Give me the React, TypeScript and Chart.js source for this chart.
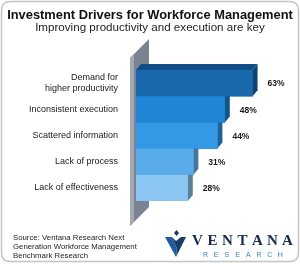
import React, { useEffect, useRef } from "react";
import { Chart, registerables } from "chart.js";

Chart.register(...registerables);

const TITLE = "Investment Drivers for Workforce Management";
const SUBTITLE = "Improving productivity and execution are key";
const categories: (string | string[])[] = [
  ["Demand for", "higher productivity"],
  "Inconsistent execution",
  "Scattered information",
  "Lack of process",
  "Lack of effectiveness",
];
const values = [63, 48, 44, 31, 28];
const frontColors = ["#1a69ac", "#1f86d6", "#3398e5", "#5aabe9", "#8bc7f2"];
const topColors = ["#0f4e86", "#17649f", "#2273b3", "#4a8cbf", "#6c9fc6"];
const sideColors = ["#0d4272", "#135789", "#1c6198", "#3f76a2", "#5a8098"];
const SOURCE = ["Source: Ventana Research Next", "Generation Workforce Management", "Benchmark Research"];

const FONT = "'Liberation Sans', Arial, sans-serif";

function fitSize(text: string, target: number, weight: string): number {
  const c = document.createElement("canvas").getContext("2d")!;
  c.font = `${weight} 20px ${FONT}`;
  const w = c.measureText(text).width;
  return (20 * target) / w;
}

function roundRect(ctx: CanvasRenderingContext2D, x: number, y: number, w: number, h: number, r: number) {
  ctx.beginPath();
  ctx.moveTo(x + r, y);
  ctx.lineTo(x + w - r, y);
  ctx.quadraticCurveTo(x + w, y, x + w, y + r);
  ctx.lineTo(x + w, y + h - r);
  ctx.quadraticCurveTo(x + w, y + h, x + w - r, y + h);
  ctx.lineTo(x + r, y + h);
  ctx.quadraticCurveTo(x, y + h, x, y + h - r);
  ctx.lineTo(x, y + r);
  ctx.quadraticCurveTo(x, y, x + r, y);
  ctx.closePath();
}

function poly(ctx: CanvasRenderingContext2D, pts: number[][], fill: string) {
  ctx.beginPath();
  ctx.moveTo(pts[0][0], pts[0][1]);
  for (let i = 1; i < pts.length; i++) ctx.lineTo(pts[i][0], pts[i][1]);
  ctx.closePath();
  ctx.fillStyle = fill;
  ctx.fill();
}

const DX = 5;
const DY = -6;

const scenePlugin = {
  id: "scene",
  beforeDraw(chart: any) {
    const ctx: CanvasRenderingContext2D = chart.ctx;
    ctx.save();
    ctx.fillStyle = "#ffffff";
    ctx.fillRect(0, 0, chart.width, chart.height);
    roundRect(ctx, 1.5, 1.5, 297, 260, 9);
    ctx.strokeStyle = "#c4c4c4";
    ctx.lineWidth = 1.5;
    ctx.stroke();

    ctx.textAlign = "center";
    ctx.textBaseline = "middle";
    ctx.fillStyle = "#111111";
    ctx.font = `bold ${fitSize(TITLE, 286, "bold")}px ${FONT}`;
    ctx.fillText(TITLE, 150, 15);
    ctx.font = `${fitSize(SUBTITLE, 230, "normal")}px ${FONT}`;
    ctx.fillStyle = "#222222";
    ctx.fillText(SUBTITLE, 150, 27.5);

    // wall
    const area = chart.chartArea;
    const L = area.left - 6;
    poly(ctx, [[L, 58], [L + 19, 39], [L + 19, 207], [L, 226]], "#7b8393");
    poly(ctx, [[L, 58], [L + 4, 54], [L + 4, 222], [L, 226]], "#a3a9b4");

    // source
    ctx.textAlign = "left";
    ctx.fillStyle = "#222222";
    ctx.font = `${fitSize(SOURCE[1], 124, "normal")}px ${FONT}`;
    SOURCE.forEach((s, i) => ctx.fillText(s, 13, 237.5 + i * 9));

    // logo mark
    poly(ctx, [[165, 237], [172, 237], [177, 249], [176, 257]], "#1f5d9e");
    poly(ctx, [[172, 237], [176, 241], [181, 237], [186, 237], [176, 257], [177, 249]], "#1a3b6b");
    poly(ctx, [[176.5, 230], [179, 233], [176.5, 236], [174, 233]], "#1a3b6b");

    ctx.fillStyle = "#182b4f";
    ctx.font = `bold 15px 'Liberation Serif', 'DejaVu Serif', serif`;
    const word = "VENTANA";
    ctx.textAlign = "center";
    for (let i = 0; i < word.length; i++) {
      ctx.fillText(word[i], 197.5 + i * 15, 241.5);
    }
    ctx.fillStyle = "#3a7ec2";
    ctx.font = `7px ${FONT}`;
    const sub = "RESEARCH";
    for (let i = 0; i < sub.length; i++) {
      ctx.fillText(sub[i], 205.5 + i * 10.7, 255.5);
    }
    ctx.restore();
  },
  afterDatasetsDraw(chart: any) {
    const ctx: CanvasRenderingContext2D = chart.ctx;
    const meta = chart.getDatasetMeta(0);
    ctx.save();
    for (let i = meta.data.length - 1; i >= 0; i--) {
      const el = meta.data[i];
      const p = el.getProps(["x", "y", "base", "height"], true);
      const top = p.y - p.height / 2;
      const bot = p.y + p.height / 2;
      const x0 = p.base;
      const x1 = p.x;
      poly(ctx, [[x1, top], [x1 + DX, top + DY], [x1 + DX, bot + DY], [x1, bot]], sideColors[i]);
      poly(ctx, [[x0, top], [x0 + DX, top + DY], [x1 + DX, top + DY], [x1, top]], topColors[i]);
      poly(ctx, [[x0, top], [x1, top], [x1, bot], [x0, bot]], frontColors[i]);
    }
    ctx.fillStyle = "#1a1a1a";
    ctx.font = `bold 8.5px ${FONT}`;
    ctx.textAlign = "left";
    ctx.textBaseline = "middle";
    meta.data.forEach((el: any, i: number) => {
      const p = el.getProps(["x", "y"], true);
      ctx.fillText(values[i] + "%", p.x + 15, p.y + 1);
    });
    ctx.restore();
  },
};

export default function App() {
  const ref = useRef<HTMLCanvasElement>(null);
  useEffect(() => {
    document.body.style.margin = "0";
    const tickSize = fitSize("Inconsistent execution", 89, "normal");
    const chart = new Chart(ref.current!, {
      type: "bar",
      data: {
        labels: categories,
        datasets: [
          {
            data: values,
            backgroundColor: frontColors,
            barPercentage: 1,
            categoryPercentage: 1,
          },
        ],
      },
      options: {
        indexAxis: "y",
        animation: false,
        responsive: false,
        devicePixelRatio: 1,
        layout: { padding: { top: 70, bottom: 63, left: 0, right: 34.5 } },
        plugins: { legend: { display: false }, tooltip: { enabled: false }, title: { display: false } },
        scales: {
          x: { display: false, min: 0, max: 70 },
          y: {
            grid: { display: false, drawTicks: false },
            border: { display: false },
            ticks: {
              color: "#1a1a1a",
              font: { family: FONT, size: tickSize, lineHeight: 1.15 },
              padding: 18,
              autoSkip: false,
            },
            afterFit: (axis: any) => {
              axis.width = 136;
            },
          },
        },
      },
      plugins: [scenePlugin],
    });
    return () => chart.destroy();
  }, []);
  return (
    <div style={{ width: 300, height: 264 }}>
      <canvas ref={ref} width={300} height={264} />
    </div>
  );
}
